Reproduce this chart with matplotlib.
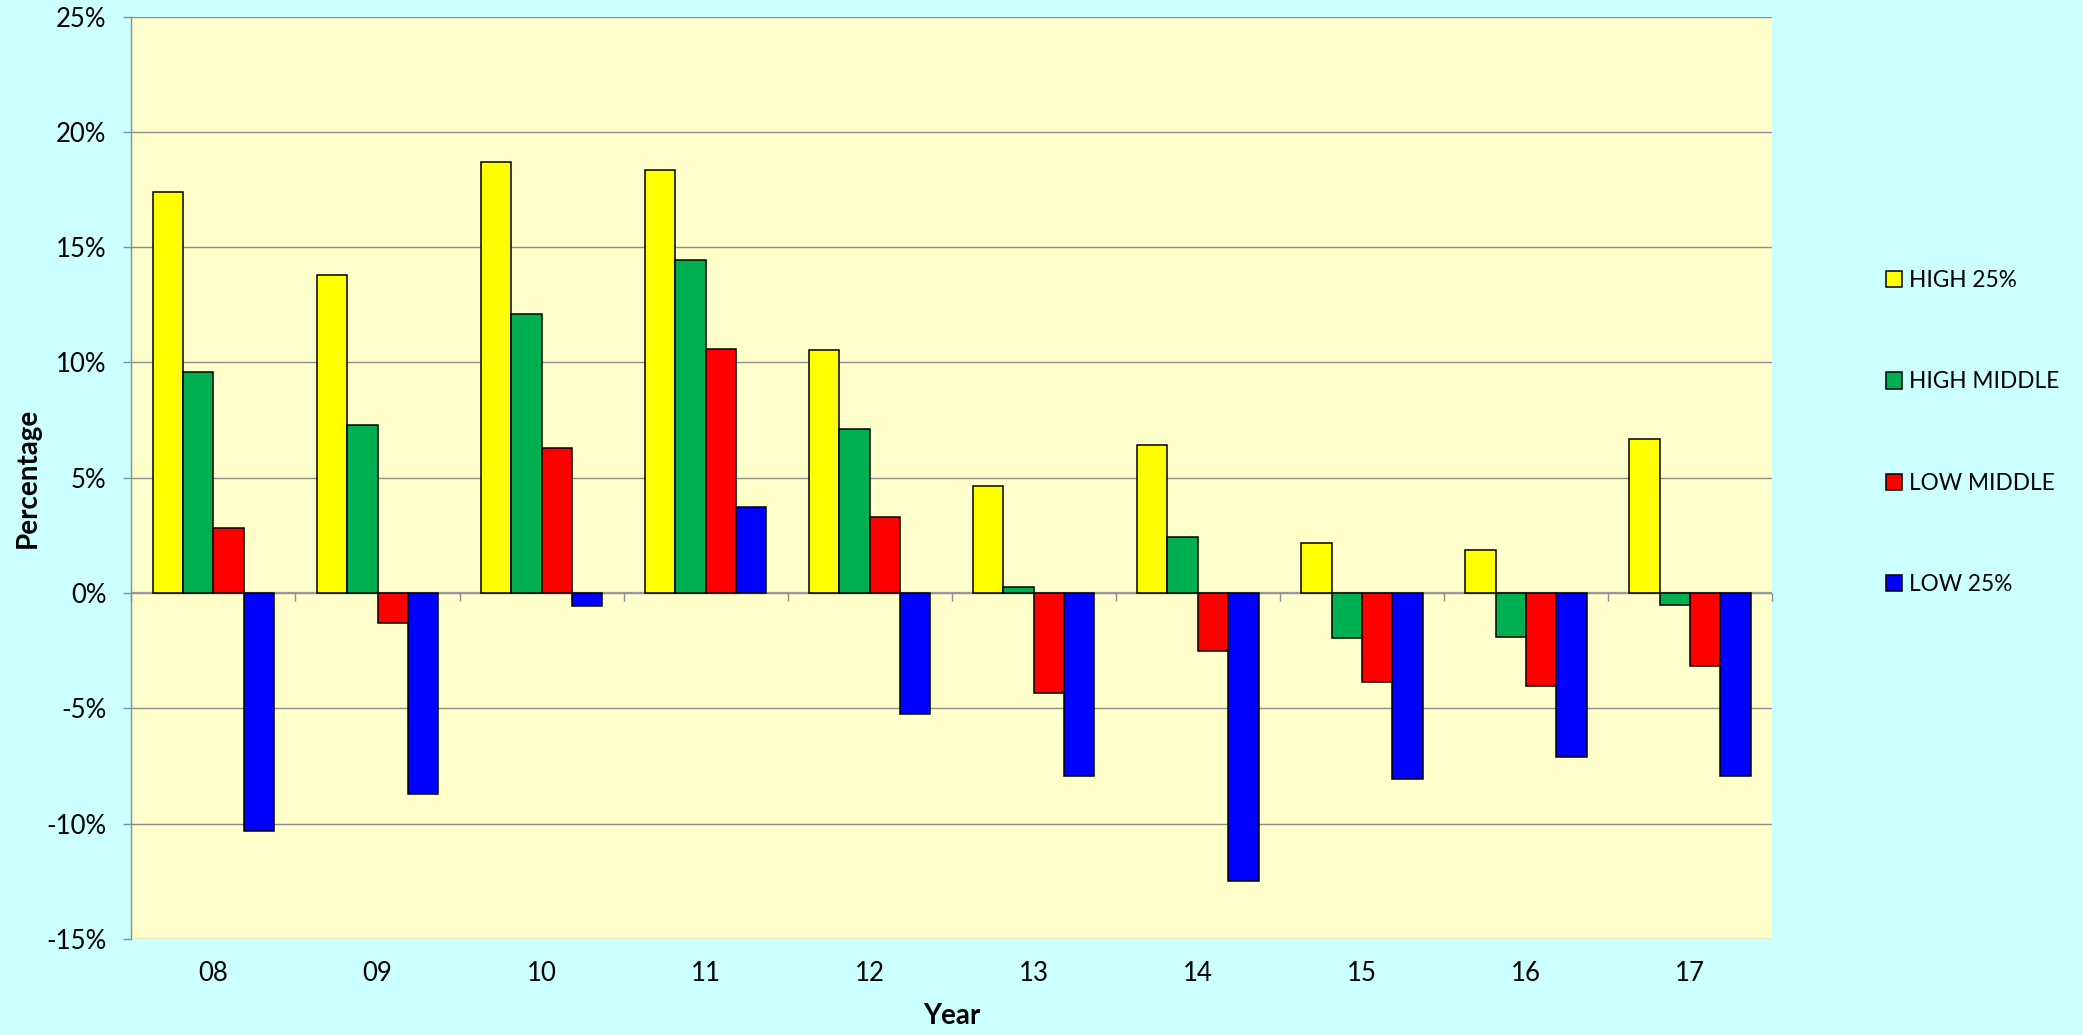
"""Grouped bar chart of yearly percentage change by income group."""

import numpy as np
import matplotlib
matplotlib.use("Agg")
import matplotlib.pyplot as plt
from matplotlib.ticker import FuncFormatter

plt.rcParams["font.family"] = ["Lato", "DejaVu Sans"]

# data
years = ["08", "09", "10", "11", "12", "13", "14", "15", "16", "17"]
high_25 = [17.4, 13.8, 18.7, 18.35, 10.55, 4.65, 6.4, 2.15, 1.85, 6.7]
high_middle = [9.6, 7.3, 12.1, 14.45, 7.1, 0.25, 2.45, -1.95, -1.9, -0.5]
low_middle = [2.8, -1.3, 6.3, 10.6, 3.3, -4.35, -2.5, -3.85, -4.05, -3.15]
low_25 = [-10.3, -8.7, -0.55, 3.75, -5.25, -7.95, -12.5, -8.05, -7.1, -7.95]

series_names = ["HIGH 25%", "HIGH MIDDLE", "LOW MIDDLE", "LOW 25%"]
colours = ["#FFFF00", "#00B050", "#FF0000", "#0000FF"]
y_ticks = [-15, -10, -5, 0, 5, 10, 15, 20, 25]

grid_grey = "#8E8E8E"

fig = plt.figure(figsize=(20.83, 10.35), dpi=100, facecolor="#CCFFFF")
ax = fig.add_axes([0.0631, 0.0928, 0.8507 - 0.0631, 0.984 - 0.0928])
ax.set_facecolor("#FFFFCC")

x = np.arange(len(years))
width = 0.185
for i, (vals, name, col) in enumerate(zip([high_25, high_middle, low_middle, low_25], series_names, colours)):
    ax.bar(x + (i - 1.5) * width, vals, width, color=col, edgecolor="black",
           linewidth=1.1, label=name, zorder=3)

# axes ranges and grid
ax.set_xlim(-0.5, len(years) - 0.5)
ax.set_ylim(y_ticks[0], y_ticks[-1])
ax.set_yticks(y_ticks)
ax.yaxis.set_major_formatter(FuncFormatter(lambda v, _: f"{v:.0f}%"))
ax.grid(axis="y", color=grid_grey, linewidth=1.0, zorder=0)
ax.set_axisbelow(True)

for side in ["top", "right", "bottom"]:
    ax.spines[side].set_visible(False)
ax.spines["left"].set_color(grid_grey)
ax.spines["left"].set_linewidth(1.0)

# category axis sits at zero, with ticks between groups
boundaries = np.arange(len(years) + 1) - 0.5
ax.axhline(0, color="#9A9A9A", linewidth=1.6, zorder=2)
ax.plot(boundaries, np.zeros(len(boundaries)), linestyle="none", marker=3,
        markersize=6, markeredgewidth=1.0, color=grid_grey, zorder=2, clip_on=False)

ax.set_xticks(x)
ax.set_xticklabels(years)
ax.tick_params(axis="x", length=0, pad=16, labelsize=18.5)
ax.tick_params(axis="y", direction="out", length=6, width=1.0, color=grid_grey,
               pad=12, labelsize=18.5)

ax.set_xlabel("Year", fontsize=20, fontweight="bold")
ax.xaxis.set_label_coords(0.5, -0.069)
ax.set_ylabel("Percentage", fontsize=20, fontweight="bold")
ax.yaxis.set_label_coords(-0.0555, 0.5)

fig.legend(loc="center left", bbox_to_anchor=(0.9055, 0.582), frameon=False,
           fontsize=16.3, labelspacing=3.55, handlelength=0.72, handleheight=0.72,
           handletextpad=0.3, borderpad=0, borderaxespad=0)

fig.savefig("out.png", dpi=100, facecolor=fig.get_facecolor())
